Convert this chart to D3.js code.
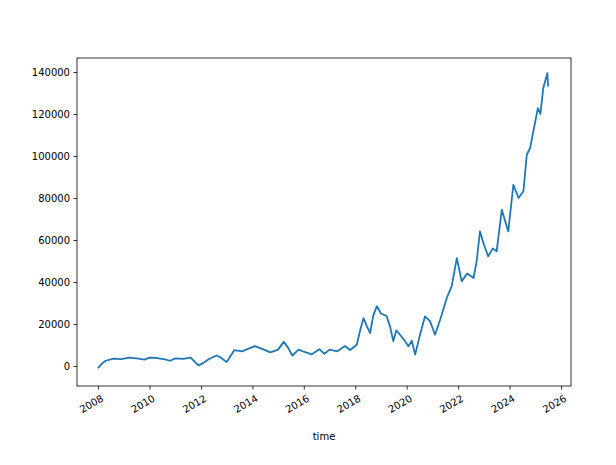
<!DOCTYPE html>
<html><head><meta charset="utf-8">
<script src="https://cdn.jsdelivr.net/npm/d3@7"></script>
<style>body{margin:0;background:#fff}text{font-family:"DejaVu Sans",sans-serif}</style>
</head><body><svg id="c" width="616" height="465"></svg>
<script>
const years = [2008.0,2008.15,2008.3,2008.6,2008.9,2009.2,2009.5,2009.8,2010.0,2010.3,2010.6,2010.8,2011.0,2011.3,2011.6,2011.9,2012.1,2012.3,2012.6,2012.75,2013.0,2013.3,2013.6,2013.9,2014.1,2014.4,2014.7,2015.0,2015.22,2015.4,2015.55,2015.8,2016.0,2016.3,2016.6,2016.8,2017.0,2017.3,2017.6,2017.8,2018.06,2018.2,2018.32,2018.45,2018.58,2018.7,2018.84,2019.0,2019.22,2019.35,2019.48,2019.6,2019.74,2019.9,2020.07,2020.2,2020.33,2020.5,2020.71,2020.91,2021.1,2021.3,2021.56,2021.75,2021.95,2022.14,2022.35,2022.6,2022.72,2022.85,2023.0,2023.17,2023.35,2023.5,2023.7,2023.95,2024.15,2024.35,2024.54,2024.67,2024.8,2025.0,2025.1,2025.2,2025.31,2025.47,2025.5];
const values = [-1000,1200,2500,3500,3300,4000,3600,3000,4000,3800,3200,2500,3600,3400,4000,300,1500,3200,5000,4200,1900,7600,7000,8500,9500,8000,6500,7800,11500,8500,5000,7800,6800,5500,8000,5800,7800,7000,9500,7600,10100,17500,22800,19000,15700,24000,28500,25000,23800,19000,11900,17000,14900,12500,9400,12000,5400,14000,23600,21300,14900,22000,32400,38000,51400,40300,44000,41900,49800,64100,58000,52200,56000,54600,74400,64100,86300,80000,83200,100600,103800,116500,122800,120000,132300,139500,133100];
const yTicks = [0,20000,40000,60000,80000,100000,120000,140000];
const xTickYears = [2008,2010,2012,2014,2016,2018,2020,2022,2024,2026];

const toDate = y => { const yr = Math.floor(y); const s = new Date(yr,0,1), e = new Date(yr+1,0,1); return new Date(+s + (y-yr)*(e-s)); };
const data = years.map((y,i)=>({d:toDate(y), v:values[i]}));
const svg = d3.select("#c");
const L=77,R=571,T=58,B=386;
const x = d3.scaleTime().domain([toDate(2007.18),toDate(2026.39)]).range([L,R]);
const y = d3.scaleLinear().domain([-9524,146667]).range([B,T]);

svg.append("path").datum(data).attr("fill","none").attr("stroke","#1f77b4").attr("stroke-width",1.8).attr("stroke-linejoin","round")
  .attr("d", d3.line().x(d=>x(d.d)).y(d=>y(d.v)));

const ya = svg.append("g").attr("transform",`translate(${L},0)`).call(d3.axisLeft(y).tickValues(yTicks).tickFormat(d3.format("d")).tickSize(3.5).tickPadding(3.5));
const xa = svg.append("g").attr("transform",`translate(0,${B})`).call(d3.axisBottom(x).tickValues(xTickYears.map(v=>new Date(v,0,1))).tickFormat(d3.timeFormat("%Y")).tickSize(3.5).tickPadding(3.5));
[ya,xa].forEach(g=>{g.select(".domain").remove();g.selectAll("text").attr("font-size",10).attr("fill","#000");g.selectAll("line").attr("stroke","#000").attr("stroke-width",0.8);});
xa.selectAll("text").attr("text-anchor","end").attr("x",0).attr("y",0).attr("dy","0.75em").attr("transform","translate(2,8) rotate(-30)");
svg.append("rect").attr("x",L).attr("y",T).attr("width",R-L).attr("height",B-T).attr("fill","none").attr("stroke","#000").attr("stroke-width",0.8);
svg.append("text").attr("x",(L+R)/2).attr("y",440).attr("text-anchor","middle").attr("font-size",10).text("time");
</script></body></html>
